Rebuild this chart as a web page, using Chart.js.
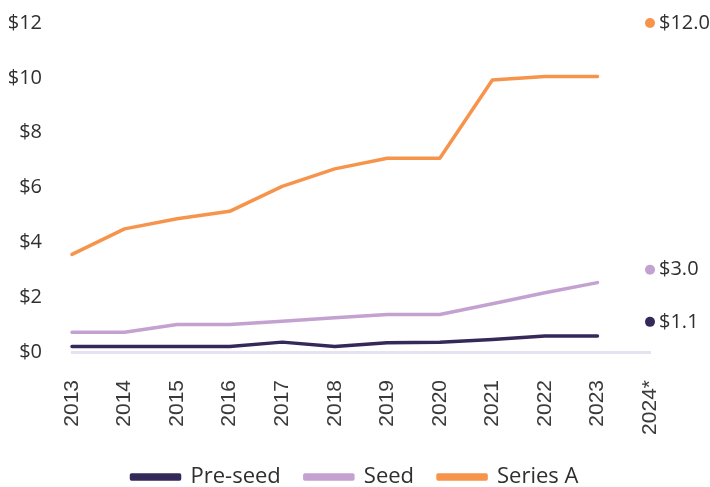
<!DOCTYPE html>
<html>
<head>
<meta charset="utf-8">
<script src="https://cdn.jsdelivr.net/npm/chart.js@4.4.1/dist/chart.umd.min.js"></script>
<style>
  html, body { margin: 0; padding: 0; background: #fff; }
  #wrap { width: 710px; height: 487px; }
</style>
</head>
<body>
<div id="wrap"><canvas id="lineChart"></canvas></div>
<script>
const years = ["2013", "2014", "2015", "2016", "2017", "2018", "2019", "2020", "2021", "2022", "2023", "2024*"];
// last value of each series is the 2024* projection (dot only)
const preSeed = [0.2, 0.2, 0.2, 0.2, 0.36, 0.2, 0.34, 0.36, 0.46, 0.58, 0.58, 1.1];
const seed = [0.72, 0.72, 1.0, 1.0, 1.12, 1.25, 1.37, 1.37, 1.76, 2.16, 2.53, 3.0];
const seriesA = [3.56, 4.49, 4.86, 5.13, 6.04, 6.68, 7.07, 7.07, 9.92, 10.05, 10.05, 12.0];
const yTicks = [0, 2, 4, 6, 8, 10, 12];

const FONT = "'Open Sans', 'Noto Sans', sans-serif";
const TEXT = "#2f2f2f";
const last = years.length - 1;

function makeSet(label, values, color) {
  return {
    label: label,
    data: values,
    borderColor: color,
    backgroundColor: color,
    borderWidth: 3.5,
    borderCapStyle: "round",
    borderJoinStyle: "round",
    tension: 0,
    clip: false,
    pointRadius: values.map((v, i) => (i === last ? 5 : 0)),
    pointHoverRadius: 0,
    pointBackgroundColor: color,
    pointBorderWidth: 0,
    segment: {
      borderColor: (ctx) => (ctx.p1DataIndex === last ? "rgba(0,0,0,0)" : color),
    },
  };
}

// label the 2024* dots
const endLabels = {
  id: "endLabels",
  afterDatasetsDraw(chart) {
    const ctx = chart.ctx;
    ctx.save();
    ctx.font = "20px " + FONT;
    ctx.fillStyle = TEXT;
    ctx.textAlign = "left";
    ctx.textBaseline = "middle";
    chart.data.datasets.forEach((ds, i) => {
      const pt = chart.getDatasetMeta(i).data[last];
      ctx.fillText("$" + ds.data[last].toFixed(1), pt.x + 9, pt.y);
    });
    ctx.restore();
  },
};

const ctx = document.getElementById("lineChart").getContext("2d");
new Chart(ctx, {
  type: "line",
  data: {
    labels: years,
    datasets: [
      makeSet("Pre-seed", preSeed, "#35295A"),
      makeSet("Seed", seed, "#C3A1D0"),
      makeSet("Series A", seriesA, "#F7944C"),
    ],
  },
  options: {
    responsive: true,
    maintainAspectRatio: false,
    animation: false,
    layout: {
      padding: { left: 0, right: 0, top: 23, bottom: -11 },
    },
    scales: {
      x: {
        offset: false,
        grid: { display: false, drawTicks: false },
        border: { display: true, color: "#E6E2EF", width: 3 },
        afterFit: (axis) => {
          axis.height = 90;
          axis.paddingRight = 60;
        },
        ticks: {
          color: "#3a3a3a",
          font: { family: "'Liberation Sans', Arial, sans-serif", size: 21 },
          minRotation: 90,
          maxRotation: 90,
          padding: 28,
          autoSkip: false,
        },
      },
      y: {
        min: 0,
        max: 12,
        grid: { display: false, drawTicks: false },
        border: { display: false },
        afterBuildTicks: (axis) => {
          axis.ticks = yTicks.map((v) => ({ value: v }));
        },
        afterFit: (axis) => {
          axis.width = 72;
          axis.paddingTop = 0;
          axis.paddingBottom = 0;
        },
        ticks: {
          color: TEXT,
          font: { family: FONT, size: 20 },
          padding: 30,
          callback: (v) => "$" + v,
        },
      },
    },
    plugins: {
      legend: {
        position: "bottom",
        labels: {
          color: TEXT,
          font: { family: FONT, size: 22 },
          boxWidth: 48,
          boxHeight: 4,
          padding: 24,
        },
      },
      tooltip: { enabled: false },
    },
  },
  plugins: [endLabels],
});
</script>
</body>
</html>
